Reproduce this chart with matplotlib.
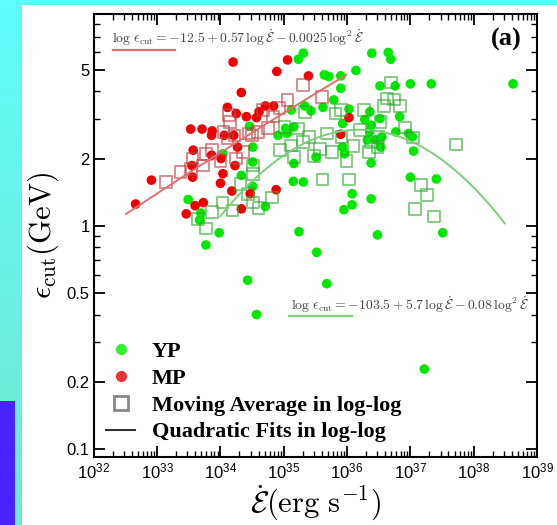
import numpy as np
import matplotlib
matplotlib.use("Agg")
from matplotlib import pyplot as plt
from matplotlib.lines import Line2D
from matplotlib.patches import Rectangle
from matplotlib.ticker import FixedLocator, FixedFormatter, LogLocator, NullFormatter

plt.rcParams['font.family'] = ['Liberation Sans', 'DejaVu Sans']
plt.rcParams['mathtext.fontset'] = 'cm'

# young pulsars: log10 Edot (erg/s) and cutoff energy (GeV)
yp_logedot = [35.23, 35.31, 36.39, 36.65, 36.69, 36.14, 35.64, 35.71, 35.90, 35.90,
              36.52, 36.76, 37.00, 37.33, 38.62, 35.79, 35.33, 35.12, 35.43, 35.62,
              36.03, 36.36, 36.52, 36.83, 36.28, 35.93, 36.38, 36.77, 36.97, 37.03,
              36.55, 34.91, 35.05, 35.03, 35.16, 34.46, 34.51, 34.04, 36.32, 36.46,
              36.53, 35.93, 35.96, 36.38, 37.05, 35.16, 35.51, 34.51, 34.33, 35.15,
              35.31, 37.00, 37.41, 34.51, 36.08, 36.38, 36.08, 35.95, 33.49, 33.69,
              33.67, 34.71, 33.98, 33.77, 35.24, 36.48, 37.51, 35.52, 34.43, 35.68,
              34.57, 37.22, 36.36]
yp_ecut = [5.57, 5.93, 5.93, 5.97, 5.57, 4.96, 4.74, 4.66, 4.69, 4.13,
           4.23, 4.23, 4.32, 4.32, 4.32, 3.66, 3.44, 3.30, 3.27, 3.39,
           3.33, 3.24, 3.02, 3.08, 2.99, 2.87, 2.82, 2.63, 2.59, 2.50,
           2.50, 2.54, 2.59, 2.73, 2.77, 2.79, 2.25, 2.10, 2.42, 2.42,
           2.25, 2.25, 2.10, 1.91, 2.16, 1.90, 2.03, 1.93, 1.68, 1.58,
           1.57, 1.65, 1.62, 1.50, 1.39, 1.32, 1.24, 1.18, 1.31, 1.14,
           1.06, 1.22, 0.93, 0.82, 0.94, 0.91, 0.93, 0.76, 0.57, 0.55,
           0.40, 0.228, 2.65]

# millisecond pulsars
mp_logedot = [32.66, 32.91, 33.53, 33.71, 33.87, 33.86, 33.57, 33.55, 33.56, 33.46,
              33.60, 33.73, 34.20, 34.11, 34.33, 34.25, 34.41, 34.06, 34.21, 34.27,
              33.86, 34.01, 34.04, 34.00, 34.23, 34.18, 34.33, 34.47, 34.88, 34.57,
              34.61, 34.71, 34.84, 34.89, 35.06, 35.39, 35.90, 36.03]
mp_ecut = [1.25, 1.60, 2.71, 2.71, 2.66, 2.54, 2.18, 1.86, 1.65, 1.13,
           1.23, 1.27, 5.41, 3.39, 3.95, 3.18, 3.08, 2.54, 2.54, 2.25,
           2.07, 2.00, 1.71, 1.55, 1.86, 1.43, 1.19, 1.39, 1.45, 3.05,
           3.24, 3.44, 3.44, 4.91, 5.53, 4.69, 2.57, 3.05]

# moving averages in log-log
yp_avg_logedot = [33.65, 33.77, 33.87, 34.03, 34.19, 34.32, 34.44, 34.51, 34.51, 34.51,
                  34.60, 34.81, 34.94, 35.01, 35.11, 35.16, 35.23, 35.30, 35.34, 35.40,
                  35.48, 35.57, 35.61, 35.68, 35.76, 35.82, 35.90, 35.91, 35.99, 36.03,
                  36.10, 36.20, 36.27, 36.35, 36.38, 36.49, 36.53, 36.58, 36.63, 36.69,
                  36.74, 36.84, 36.92, 37.04, 37.17, 37.26, 37.07, 37.37, 37.72, 36.48]
yp_avg_ecut = [1.07, 0.97, 1.15, 1.27, 1.17, 1.54, 1.39, 1.86, 1.71, 1.27,
               1.20, 1.34, 2.19, 2.77, 2.29, 2.03, 2.73, 2.37, 3.24, 2.50,
               2.05, 2.21, 1.61, 2.59, 2.14, 3.18, 3.30, 2.50, 1.95, 1.61,
               2.27, 2.68, 3.30, 2.14, 2.37, 2.50, 2.92, 3.44, 3.72, 4.38,
               3.68, 3.44, 2.75, 2.48, 1.52, 1.37, 1.19, 1.10, 2.31, 2.25]
mp_avg_logedot = [33.14, 33.37, 33.54, 33.56, 33.72, 33.77, 33.87, 34.00, 34.11, 34.05,
                  34.15, 34.14, 34.22, 34.25, 34.36, 34.45, 34.50, 34.59, 34.67, 34.75,
                  34.83, 35.06, 35.30, 35.60, 34.93]
mp_avg_ecut = [1.57, 1.74, 1.80, 2.00, 1.86, 2.09, 2.18, 1.95, 2.46, 2.63,
               2.92, 3.13, 2.54, 2.00, 2.14, 2.59, 2.54, 2.63, 3.30, 2.74,
               3.08, 3.66, 4.27, 3.78, 3.37]

# quadratic fits: log ecut = a + b log Edot + c log^2 Edot, over a log Edot range
mp_fit = [-8.693, 0.3503, -0.0025]
mp_fit_range = [32.51, 35.99]
yp_fit = [-104.405, 5.792, -0.08]
yp_fit_range = [34.0, 38.49]

fig = plt.figure(figsize=(5.57, 5.25), dpi=100)

# backdrop
bg = fig.add_axes([0, 0, 1, 1], zorder=-10)
t = np.linspace(0, 1, 256)[:, None]
top = np.array([0.37, 0.99, 0.99])
bot = np.array([0.45, 0.91, 0.80])
grad = (top * (1 - t) + bot * t)[:, None, :]
bg.imshow(np.repeat(grad, 4, axis=1), aspect='auto', extent=[0, 1, 0, 1])
bg.axis('off')
fig.patches.append(Rectangle((0.0395, 0), 0.9605, 0.9905, transform=fig.transFigure,
                             facecolor='white', edgecolor='none', zorder=-5))
fig.patches.append(Rectangle((0, 0), 0.027, 0.237, transform=fig.transFigure,
                             facecolor='#4a22ff', edgecolor='none', zorder=-4))

ax = fig.add_axes([0.1684, 0.1295, 0.7957, 0.8436])
ax.set_xscale('log')
ax.set_yscale('log')

ax.scatter(10 ** np.array(yp_logedot), yp_ecut, s=48, color='#00e800', edgecolors='none', zorder=3)
ax.scatter(10 ** np.array(mp_logedot), mp_ecut, s=48, color='#ee0000', edgecolors='none', zorder=3)
ax.scatter(10 ** np.array(yp_avg_logedot), yp_avg_ecut, s=70, marker='s', facecolors='none',
           edgecolors=(0.2, 0.66, 0.2, 0.6), linewidths=1.4, zorder=4)
ax.scatter(10 ** np.array(mp_avg_logedot), mp_avg_ecut, s=70, marker='s', facecolors='none',
           edgecolors=(0.75, 0.25, 0.25, 0.6), linewidths=1.4, zorder=4)

for fit, rng, col in [(mp_fit, mp_fit_range, '#e07070'), (yp_fit, yp_fit_range, '#7ccc7c')]:
    L = np.linspace(rng[0], rng[1], 200)
    ax.plot(10 ** L, 10 ** (fit[0] + fit[1] * L + fit[2] * L ** 2), color=col, lw=1.4, zorder=5)

ax.set_xlim(1e32, 1e39)
ax.set_ylim(0.092, 8.87)

ax.xaxis.set_major_locator(LogLocator(base=10, numticks=20))
ax.xaxis.set_minor_locator(LogLocator(base=10, subs=np.arange(2, 10) * 1.0, numticks=20))
ax.xaxis.set_minor_formatter(NullFormatter())
ax.yaxis.set_major_locator(FixedLocator([0.1, 0.2, 0.5, 1, 2, 5]))
ax.yaxis.set_major_formatter(FixedFormatter(['0.1', '0.2', '0.5', '1', '2', '5']))
ax.yaxis.set_minor_locator(LogLocator(base=10, subs=np.arange(2, 10) * 1.0, numticks=20))
ax.yaxis.set_minor_formatter(NullFormatter())

ax.tick_params(which='both', direction='in', top=True, right=True, labelsize=12)
ax.tick_params(which='major', length=8, width=1.3)
ax.tick_params(which='minor', length=4.5, width=1.0)
ax.tick_params(axis='x', pad=3)
ax.tick_params(axis='y', pad=3)
for s in ax.spines.values():
    s.set_linewidth(1.5)

ax.set_ylabel(r'$\epsilon_{\rm cut}(\rm GeV)$', fontsize=22, labelpad=4)
ax.set_xlabel(r'$\dot{\mathcal{E}}(\rm erg\ s^{-1})$', fontsize=22, labelpad=2)

ax.text(0.041, 0.946, r'$\log\,\epsilon_{\rm cut}=-12.5+0.57\,\log\dot{\mathcal{E}}-0.0025\,\log^2\dot{\mathcal{E}}$',
        transform=ax.transAxes, fontsize=9.9, color='#444444', va='center')
ax.plot([0.0435, 0.183], [0.919, 0.919], transform=ax.transAxes, color='#e07070', lw=1.6)
ax.text(0.444, 0.343, r'$\log\,\epsilon_{\rm cut}=-103.5+5.7\,\log\dot{\mathcal{E}}-0.08\,\log^2\dot{\mathcal{E}}$',
        transform=ax.transAxes, fontsize=9.9, color='#444444', va='center')
ax.plot([0.4415, 0.582], [0.3175, 0.3175], transform=ax.transAxes, color='#7ccc7c', lw=1.6)

ax.text(0.93, 0.942, '(a)', transform=ax.transAxes, ha='center', va='center',
        fontsize=19, fontweight='bold', family='Liberation Serif')

handles = [Line2D([], [], marker='o', ls='none', color='#33ee33', ms=7),
           Line2D([], [], marker='o', ls='none', color='#ee3333', ms=7),
           Line2D([], [], marker='s', ls='none', mfc='none', mec='#888888', ms=10, mew=2),
           Line2D([], [], color='#333333', lw=1.5)]
labels = ['YP', 'MP', 'Moving Average in log-log', 'Quadratic Fits in log-log']
ax.legend(handles, labels, loc='lower left', bbox_to_anchor=(0.028, 0.033), frameon=False,
          borderpad=0, borderaxespad=0, handlelength=1.3, handletextpad=0.75, labelspacing=0.28,
          prop=dict(family='Liberation Serif', weight='bold', size=16))

fig.savefig('out.png', dpi=100)
